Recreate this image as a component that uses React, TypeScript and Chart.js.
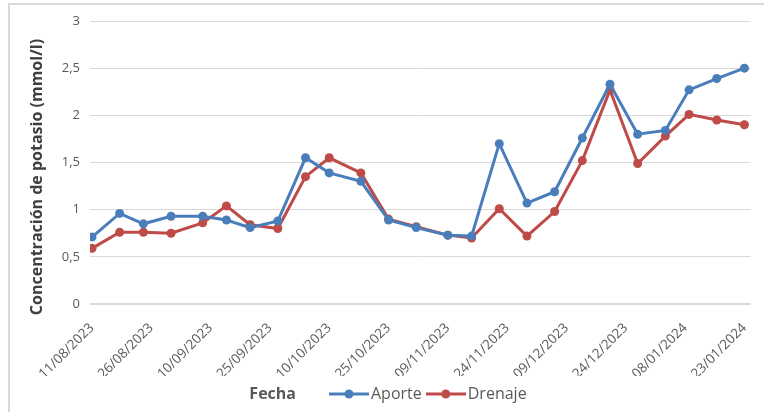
import { useEffect, useRef } from 'react';
import { Chart, registerables } from 'chart.js';

Chart.register(...registerables);

// Fechas de muestreo (dd/mm/aaaa)
const fechas = [
  '11/08/2023', '18/08/2023', '24/08/2023', '31/08/2023', '08/09/2023',
  '14/09/2023', '20/09/2023', '27/09/2023', '04/10/2023', '10/10/2023',
  '18/10/2023', '25/10/2023', '01/11/2023', '09/11/2023', '15/11/2023',
  '22/11/2023', '29/11/2023', '06/12/2023', '13/12/2023', '20/12/2023',
  '27/12/2023', '03/01/2024', '09/01/2024', '16/01/2024', '23/01/2024',
];

// Concentración de potasio (mmol/l)
const aporte = [
  0.71, 0.96, 0.85, 0.93, 0.93, 0.89, 0.81, 0.88, 1.55, 1.39, 1.3, 0.89, 0.81,
  0.73, 0.72, 1.7, 1.07, 1.19, 1.76, 2.33, 1.8, 1.84, 2.27, 2.39, 2.5,
];
const drenaje = [
  0.59, 0.76, 0.76, 0.75, 0.86, 1.04, 0.84, 0.8, 1.35, 1.55, 1.39, 0.9, 0.82,
  0.73, 0.7, 1.01, 0.72, 0.98, 1.52, 2.27, 1.49, 1.78, 2.01, 1.95, 1.9,
];

// Etiquetas del eje de fechas (cada 15 días)
const fechasEje = [
  '11/08/2023', '26/08/2023', '10/09/2023', '25/09/2023', '10/10/2023',
  '25/10/2023', '09/11/2023', '24/11/2023', '09/12/2023', '24/12/2023',
  '08/01/2024', '23/01/2024',
];

const AZUL = '#4a7ebb';
const ROJO = '#be4b48';
const GRIS = '#595959';
const FUENTE = "'Open Sans', sans-serif";

const aMs = (f: string) => {
  const [d, m, a] = f.split('/').map(Number);
  return Date.UTC(a, m - 1, d);
};
const origen = aMs(fechas[0]);
const aDia = (f: string) => Math.round((aMs(f) - origen) / 86400000);

const serie = (valores: number[]) =>
  fechas.map((f, i) => ({ x: aDia(f), y: valores[i] }));

// Marcador de leyenda: línea con círculo al centro
function marcador(color: string, ancho: number): HTMLCanvasElement {
  const c = document.createElement('canvas');
  c.width = ancho;
  c.height = 12;
  const ctx = c.getContext('2d')!;
  ctx.strokeStyle = color;
  ctx.lineWidth = 3;
  ctx.beginPath();
  ctx.moveTo(0, 6);
  ctx.lineTo(ancho, 6);
  ctx.stroke();
  ctx.fillStyle = color;
  ctx.beginPath();
  ctx.arc(ancho / 2, 6, 4.5, 0, Math.PI * 2);
  ctx.fill();
  return c;
}

function vacio(): HTMLCanvasElement {
  const c = document.createElement('canvas');
  c.width = 1;
  c.height = 1;
  return c;
}

const ANCHO_CAJA = 28;
const ANCHO_MARCADOR = 40;

// Dibuja el título "Fecha" junto a la leyenda
const tituloFecha = {
  id: 'tituloFecha',
  afterDraw(chart: any) {
    const cajas = chart.legend?.legendHitBoxes;
    if (!cajas || cajas.length < 2) return;
    const caja = cajas[1];
    const inicioMarcador = caja.left + ANCHO_CAJA / 2 - ANCHO_MARCADOR / 2;
    const ctx = chart.ctx;
    ctx.save();
    ctx.font = `bold 16px ${FUENTE}`;
    ctx.fillStyle = GRIS;
    ctx.textAlign = 'right';
    ctx.textBaseline = 'middle';
    ctx.fillText('Fecha', inicioMarcador - 33, caja.top + caja.height / 2);
    ctx.restore();
  },
};

export default function App() {
  const ref = useRef<HTMLCanvasElement | null>(null);

  useEffect(() => {
    if (!ref.current) return;
    const mAporte = marcador(AZUL, ANCHO_MARCADOR);
    const mDrenaje = marcador(ROJO, ANCHO_MARCADOR);

    const chart = new Chart(ref.current, {
      type: 'line',
      data: {
        datasets: [
          {
            label: 'Aporte',
            data: serie(aporte),
            borderColor: AZUL,
            backgroundColor: AZUL,
            borderWidth: 3,
            pointRadius: 4.5,
            pointHoverRadius: 4.5,
            pointBorderWidth: 0,
            tension: 0,
          },
          {
            label: 'Drenaje',
            data: serie(drenaje),
            borderColor: ROJO,
            backgroundColor: ROJO,
            borderWidth: 3,
            pointRadius: 4.5,
            pointHoverRadius: 4.5,
            pointBorderWidth: 0,
            tension: 0,
          },
        ],
      },
      options: {
        animation: false,
        responsive: false,
        maintainAspectRatio: false,
        layout: { padding: { left: 20, right: 12, top: 21, bottom: 0 } },
        scales: {
          x: {
            type: 'linear',
            min: -0.5,
            max: 166.5,
            afterBuildTicks: (s: any) => {
              s.ticks = fechasEje.map((f) => ({ value: aDia(f) }));
            },
            afterFit: (s: any) => {
              s.height = 72;
            },
            grid: { display: false },
            border: { display: false },
            ticks: {
              autoSkip: false,
              minRotation: 45,
              maxRotation: 45,
              padding: 8,
              color: GRIS,
              font: { family: FUENTE, size: 13.5 },
              callback: (_v: any, i: number) => fechasEje[i],
            },
          },
          y: {
            min: 0,
            max: 3,
            afterFit: (s: any) => {
              s.width = 70;
            },
            grid: {
              color: '#d9d9d9',
              lineWidth: (c: any) => (c.tick && c.tick.value === 0 ? 2 : 1),
              drawTicks: false,
            },
            border: { display: false },
            ticks: {
              stepSize: 0.5,
              padding: 10,
              color: GRIS,
              font: { family: FUENTE, size: 13 },
              callback: (v: any) => String(v).replace('.', ','),
            },
            title: {
              display: true,
              // los espacios finales desplazan el texto hacia abajo del eje
              text: 'Concentración de potasio (mmol/l)       ',
              color: '#404040',
              font: { family: FUENTE, size: 16, weight: 'bold' },
              padding: { top: 8, bottom: 0 },
            },
          },
        },
        plugins: {
          tooltip: { enabled: false },
          legend: {
            position: 'bottom',
            labels: {
              usePointStyle: true,
              pointStyleWidth: ANCHO_CAJA,
              boxHeight: 12,
              padding: 10,
              color: GRIS,
              font: { family: FUENTE, size: 16 },
              generateLabels: (ch: any) => {
                const base = Chart.defaults.plugins.legend.labels.generateLabels(ch);
                base[0].pointStyle = mAporte;
                base[1].pointStyle = mDrenaje;
                const fecha = {
                  text: 'Fecha',
                  fontColor: 'rgba(0,0,0,0)',
                  fillStyle: 'rgba(0,0,0,0)',
                  strokeStyle: 'rgba(0,0,0,0)',
                  lineWidth: 0,
                  hidden: false,
                  pointStyle: vacio(),
                  datasetIndex: -1,
                };
                return [fecha, ...base];
              },
            },
            onClick: () => {},
          },
        },
      },
      plugins: [tituloFecha],
    });
    return () => chart.destroy();
  }, []);

  return (
    <div
      style={{
        position: 'absolute',
        left: 0,
        top: 0,
        width: 764,
        height: 412,
        overflow: 'hidden',
        background: '#fff',
      }}
    >
      <div
        style={{
          position: 'absolute',
          left: 8,
          top: 3,
          width: 800,
          height: 500,
          borderLeft: '2px solid #d9d9d9',
          borderTop: '2px solid #d9d9d9',
        }}
      />
      <canvas
        ref={ref}
        width={764}
        height={412}
        style={{ position: 'absolute', left: 0, top: 0, width: 764, height: 412 }}
      />
    </div>
  );
}
